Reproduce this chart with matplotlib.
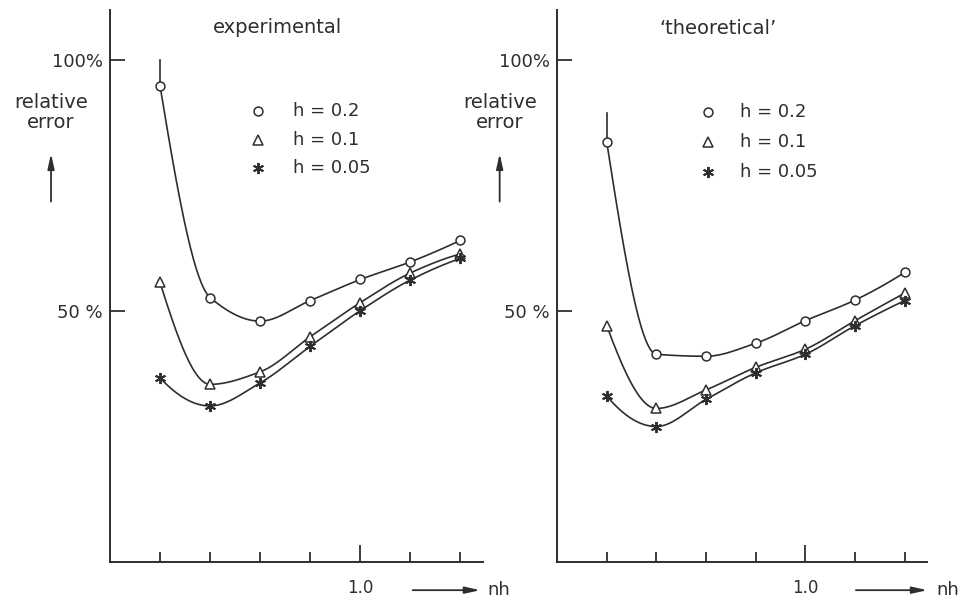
import numpy as np
import matplotlib
matplotlib.use("Agg")
import matplotlib.pyplot as plt

# nh values where the errors were measured
nh = [0.2, 0.4, 0.6, 0.8, 1.0, 1.2, 1.4]
h_labels = ["h = 0.2", "h = 0.1", "h = 0.05"]

# relative error in %
exp_h02 = [94.9, 52.7, 48.0, 52.1, 56.3, 59.8, 64.1]
exp_h01 = [55.7, 35.4, 37.9, 44.9, 51.7, 57.6, 61.4]
exp_h005 = [36.7, 31.1, 35.7, 43.0, 50.1, 56.2, 60.5]

theo_h02 = [83.7, 41.4, 41.0, 43.6, 48.1, 52.2, 57.7]
theo_h01 = [47.1, 30.6, 34.3, 38.8, 42.4, 48.1, 53.6]
theo_h005 = [33.1, 27.0, 32.4, 37.7, 41.4, 47.1, 52.1]

# where the h = 0.2 curve runs off above its first point
tail_top = [100, 89.4]

panel_titles = ["experimental", "\u2018theoretical\u2019"]

INK = "#2e2e2e"
MARKERS = [dict(marker="o", ms=6.4, mew=1.1),
           dict(marker="^", ms=7.0, mew=1.1),
           dict(marker=(6, 2, 0), ms=8.0, mew=1.4)]


def pchip(x, y, xs):
    # shape preserving cubic, so the hand drawn look holds without overshoot
    x = np.asarray(x, float); y = np.asarray(y, float)
    h = np.diff(x); d = np.diff(y) / h
    n = len(x)
    m = np.zeros(n)
    for k in range(1, n - 1):
        if d[k - 1] * d[k] > 0:
            w1 = 2 * h[k] + h[k - 1]
            w2 = h[k] + 2 * h[k - 1]
            m[k] = (w1 + w2) / (w1 / d[k - 1] + w2 / d[k])
    def end(h0, h1, d0, d1):
        s = ((2 * h0 + h1) * d0 - h0 * d1) / (h0 + h1)
        if np.sign(s) != np.sign(d0):
            s = 0.0
        elif np.sign(d0) != np.sign(d1) and abs(s) > abs(3 * d0):
            s = 3 * d0
        return s
    m[0] = end(h[0], h[1], d[0], d[1])
    m[-1] = end(h[-1], h[-2], d[-1], d[-2])
    idx = np.clip(np.searchsorted(x, xs) - 1, 0, n - 2)
    t = (xs - x[idx]) / h[idx]
    h00 = 2 * t**3 - 3 * t**2 + 1
    h10 = t**3 - 2 * t**2 + t
    h01 = -2 * t**3 + 3 * t**2
    h11 = t**3 - t**2
    return h00 * y[idx] + h10 * h[idx] * m[idx] + h01 * y[idx + 1] + h11 * h[idx] * m[idx + 1]


fig = plt.figure(figsize=(9.74, 6.02), dpi=100)
fig.patch.set_facecolor("white")
plt.rcParams["font.family"] = ["DejaVu Sans"]

axes = [fig.add_axes([0.1129, 0.0664, 0.383, 0.917]),
        fig.add_axes([0.5719, 0.0664, 0.380, 0.917])]
panels = [[exp_h02, exp_h01, exp_h005], [theo_h02, theo_h01, theo_h005]]
legend_pos = [(0.397, 0.491, [0.817, 0.764, 0.714]), (0.408, 0.495, [0.815, 0.761, 0.707])]
title_pos = [(0.448, 0.969), (0.435, 0.967)]
ylab_x = [-0.158, -0.155]
nh_arrow = [(0.804, 1.0, 1.012), (0.80, 1.008, 1.025)]

xs = np.linspace(nh[0], nh[-1], 300)
for i, ax in enumerate(axes):
    series = panels[i]
    for j, vals in enumerate(series):
        ax.plot(xs, pchip(nh, vals, xs), color=INK, lw=1.2, zorder=2)
        ax.plot(nh, vals, ls="none", color=INK, mfc="white", zorder=3, **MARKERS[j])
    ax.plot([nh[0], nh[0]], [series[0][0], tail_top[i]], color=INK, lw=1.2, zorder=2)

    # legend drawn by hand to sit where the scan has it
    mx, tx, ys = legend_pos[i]
    for j, lab in enumerate(h_labels):
        ax.plot([mx], [ys[j]], transform=ax.transAxes, ls="none", color=INK,
                mfc="white", clip_on=False, **MARKERS[j])
        ax.text(tx, ys[j], lab, transform=ax.transAxes, fontsize=13, color=INK, va="center")

    ax.set_xlim(0, 1.49)
    ax.set_ylim(0, 110)
    for s in ["top", "right"]:
        ax.spines[s].set_visible(False)
    for s in ["left", "bottom"]:
        ax.spines[s].set_color(INK)
        ax.spines[s].set_linewidth(1.4)

    ax.set_yticks([50, 100])
    ax.set_yticklabels(["50 %", "100%"])
    ax.tick_params(axis="y", direction="in", length=11, width=1.3, color=INK,
                   labelcolor=INK, labelsize=13, pad=5)
    ax.set_xticks([1.0])
    ax.set_xticklabels(["1.0"])
    ax.set_xticks([0.2, 0.4, 0.6, 0.8, 1.2, 1.4], minor=True)
    ax.tick_params(axis="x", which="major", direction="in", length=12, width=1.3,
                   color=INK, labelcolor=INK, labelsize=12, pad=12)
    ax.tick_params(axis="x", which="minor", direction="in", length=7, width=1.3, color=INK)

    tx0, ty0 = title_pos[i]
    ax.text(tx0, ty0, panel_titles[i], transform=ax.transAxes, fontsize=14,
            color=INK, ha="center", va="center")

    lx = ylab_x[i]
    ax.text(lx, 0.814, "relative\nerror", transform=ax.transAxes, fontsize=14,
            color=INK, ha="center", va="center", linespacing=1.05)
    ax.annotate("", xy=(lx, 0.745), xytext=(lx, 0.648), xycoords="axes fraction",
                arrowprops=dict(arrowstyle="-|>,head_length=0.9,head_width=0.2",
                                color=INK, lw=1.3))
    a0, a1, nx = nh_arrow[i]
    ax.annotate("", xy=(a1, -0.051), xytext=(a0, -0.051), xycoords="axes fraction",
                arrowprops=dict(arrowstyle="-|>,head_length=0.9,head_width=0.2",
                                color=INK, lw=1.3), annotation_clip=False)
    ax.text(nx, -0.051, "nh", transform=ax.transAxes, fontsize=13, color=INK,
            ha="left", va="center")

fig.savefig("out.png", dpi=100, facecolor="white")
